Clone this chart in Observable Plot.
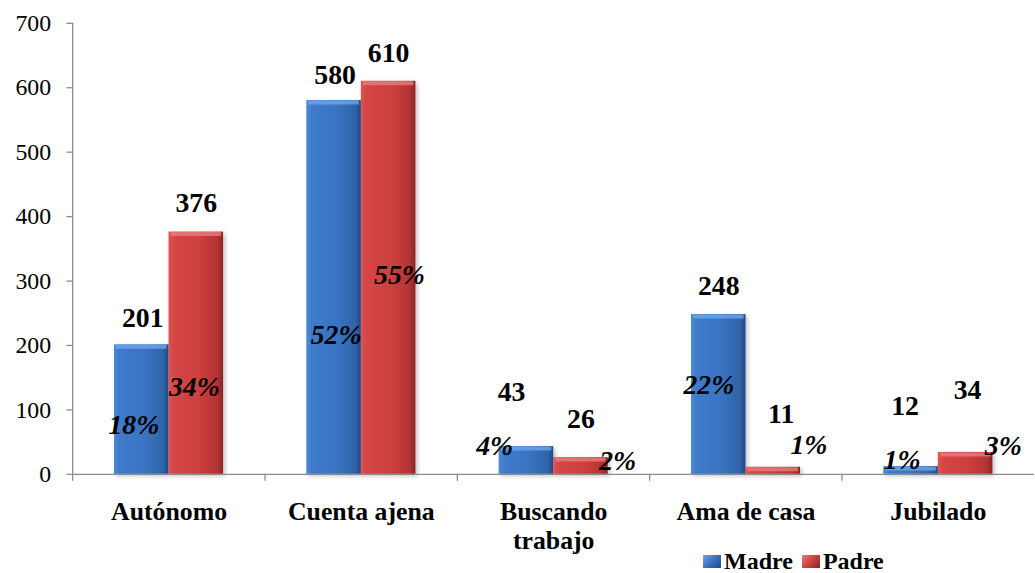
<!DOCTYPE html>
<html>
<head>
<meta charset="utf-8">
<script src="https://cdn.jsdelivr.net/npm/d3@7"></script>
<script src="https://cdn.jsdelivr.net/npm/@observablehq/plot@0.6"></script>
<style>
  html, body { margin: 0; padding: 0; background: #fff; overflow: hidden; }
  #wrap { position: relative; width: 1035px; height: 573px; overflow: hidden; }
  #chart svg g[aria-label="bar"] rect { filter: drop-shadow(2px 2px 2px rgba(0,0,0,0.25)); }
  #legend {
    position: absolute; left: 703px; top: 549px; height: 24px;
    display: flex; align-items: center; gap: 3px;
    font-family: "Liberation Serif", "Times New Roman", serif;
    font-weight: bold; font-size: 24px; line-height: 24px; color: #000;
  }
  #legend .sw { display: inline-block; width: 18px; height: 13px; margin-right: 3px; }
  #legend .item { display: flex; align-items: center; margin-right: 6px; }
</style>
</head>
<body>
<div id="wrap">
  <div id="chart"></div>
  <div id="legend"></div>
</div>
<script>
// Occupation of mothers and fathers (counts and share of each group)
const categories = ["Autónomo", "Cuenta ajena", "Buscando trabajo", "Ama de casa", "Jubilado"];
const series = ["Madre", "Padre"];
const madre = [201, 580, 43, 248, 12];
const padre = [376, 610, 26, 11, 34];
const madreShare = [18, 52, 4, 22, 1];
const padreShare = [34, 55, 2, 1, 3];
const yTicks = [0, 100, 200, 300, 400, 500, 600, 700];

const rows = categories.flatMap((c, i) => [
  {category: c, series: "Madre", value: madre[i], share: madreShare[i]},
  {category: c, series: "Padre", value: padre[i], share: padreShare[i]}
]);

// hand-placed label offsets (pixels), one per bar, in row order
const valueNudge = [[1, -27], [0, -29], [1, -26], [0, -28], [-15, -55], [0, -39], [0, -29], [8, -54], [-6, -61], [2, -63]];
const shareNudge = [[-8, -50], [-2, -88], [2, -140], [11, -201], [-32, -28], [37, -13], [-10, -90], [36, -30], [-9, -14], [38, -29]];

const gray = "#8c8c8c";
const serif = "Liberation Serif, Times New Roman, serif";
const W = 1044;
const marginLeft = 72;
const halfStep = (W - marginLeft) / categories.length / 2;

const fills = {Madre: "url(#gMadre)", Padre: "url(#gPadre)"};
const bevel = {Madre: "#6fa6e8", Padre: "#ec7b7b"};

const svg = Plot.plot({
  width: W,
  height: 573,
  marginTop: 23,
  marginBottom: 95,
  marginLeft,
  marginRight: 0,
  style: {fontFamily: serif, color: "#000", background: "transparent", overflow: "visible"},
  fx: {domain: categories, padding: 0, label: null},
  x: {domain: series, paddingInner: 0, paddingOuter: 0.736, axis: null},
  y: {domain: [0, 700], label: null},
  marks: [
    Plot.barY(rows, {fx: "category", x: "series", y: "value", fill: d => fills[d.series]}),
    Plot.tickY(rows, {fx: "category", x: "series", y: "value", stroke: d => bevel[d.series],
      strokeWidth: 4, dy: 2, insetLeft: 2, insetRight: 2, strokeOpacity: 0.8}),
    Plot.ruleY([0], {stroke: gray, strokeWidth: 1.3}),
    Plot.ruleX([categories[0]], {fx: d => d, x: null, y1: 0, y2: 700, dx: -halfStep, stroke: gray, strokeWidth: 1.3}),
    Plot.axisY({ticks: yTicks, tickSize: 6, fill: "none", stroke: gray, strokeWidth: 1.3, label: null}),
    Plot.axisY({ticks: yTicks, tickSize: 0, tickPadding: 22, fontSize: 24, fill: "#000", label: null}),
    Plot.axisFx({anchor: "bottom", tickSize: 7, fill: "none", stroke: gray, strokeWidth: 1.3, dx: -halfStep, label: null}),
    Plot.axisFx({anchor: "bottom", tickSize: 0, tickPadding: 25, fontSize: 26, fontWeight: "bold", lineHeight: 1.12,
      fill: "#000", label: null, tickFormat: d => d === "Buscando trabajo" ? "Buscando\ntrabajo" : d}),
    ...rows.map((r, i) => Plot.text([r], {fx: "category", x: "series", y: "value", text: d => String(d.value),
      dx: valueNudge[i][0], dy: valueNudge[i][1], fontSize: 28, fontWeight: "bold", fill: "#000"})),
    ...rows.map((r, i) => Plot.text([r], {fx: "category", x: "series", y: () => 0, text: d => d.share + "%",
      dx: shareNudge[i][0], dy: shareNudge[i][1], fontSize: 28, fontWeight: "bold", fontStyle: "italic", fill: "#000"}))
  ]
});

// bar gradients
d3.select(svg).insert("defs", ":first-child").html(`
  <linearGradient id="gMadre" x1="0" x2="1" y1="0" y2="0">
    <stop offset="0" stop-color="#4d8ad8"/>
    <stop offset="0.1" stop-color="#3e7bcb"/>
    <stop offset="0.55" stop-color="#3a74c2"/>
    <stop offset="0.9" stop-color="#2f63a8"/>
    <stop offset="1" stop-color="#1f4a85"/>
  </linearGradient>
  <linearGradient id="gPadre" x1="0" x2="1" y1="0" y2="0">
    <stop offset="0" stop-color="#e05454"/>
    <stop offset="0.1" stop-color="#d54646"/>
    <stop offset="0.55" stop-color="#cd4040"/>
    <stop offset="0.9" stop-color="#b23434"/>
    <stop offset="1" stop-color="#8a2323"/>
  </linearGradient>`);

document.getElementById("chart").appendChild(svg);

// legend
const swatchBg = {
  Madre: "linear-gradient(135deg, #6fa6e8 0%, #3a72bf 50%, #1f4a85 100%)",
  Padre: "linear-gradient(135deg, #ec7b7b 0%, #cd4040 50%, #8a2323 100%)"
};
const legend = d3.select("#legend");
series.forEach(s => {
  const item = legend.append("span").attr("class", "item");
  item.append("span").attr("class", "sw").style("background", swatchBg[s]);
  item.append("span").text(s);
});
</script>
</body>
</html>
